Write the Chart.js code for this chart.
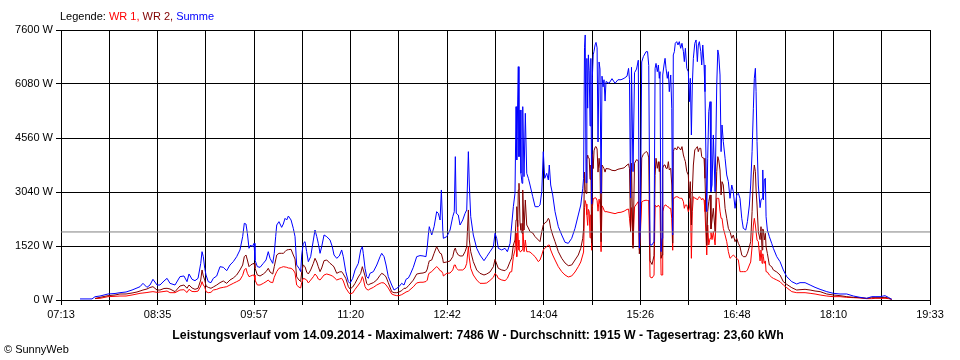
<!DOCTYPE html>
<html>
<head>
<meta charset="utf-8">
<script src="https://cdn.jsdelivr.net/npm/chart.js@4"></script>
<style>
  body { margin: 0; background: #fff; }
  canvas { display: block; }
</style>
</head>
<body>
<canvas id="chart" width="960" height="360"></canvas>
<script>
// Zeit in Minuten seit Mitternacht
const zeiten = [
  449.2, 459.4, 462.0, 466.2, 473.0, 479.0, 483.2, 488.4, 493.5, 497.7,
  500.3, 502.8, 506.2, 508.8, 511.3, 514.8, 517.3, 520.7, 523.3, 525.8,
  530.1, 534.3, 537.7, 540.3, 542.0, 544.6, 547.1, 549.7, 552.0, 553.1,
  554.2, 555.4, 556.5, 558.4, 560.7, 562.7, 565.6, 568.4, 571.2, 574.1,
  576.9, 579.7, 582.6, 585.4, 587.7, 589.1, 590.5, 591.7, 593.1, 594.5,
  595.9, 597.4, 598.2, 600.2, 602.5, 605.3, 607.6, 609.5, 611.0, 613.3,
  614.6, 615.8, 616.7, 618.6, 620.9, 622.3, 623.8, 625.2, 626.6, 628.9,
  630.8, 632.3, 633.7, 635.7, 637.1, 638.0, 639.3, 640.8, 642.2, 643.6,
  645.6, 647.9, 649.3, 650.8, 652.1, 653.6, 655.0, 657.0, 659.3, 662.1,
  664.0, 665.5, 667.8, 670.0, 672.0, 673.4, 675.5, 677.7, 679.1, 681.4,
  683.4, 686.2, 688.2, 689.6, 690.4, 691.9, 693.3, 694.7, 696.1, 699.0,
  701.9, 704.7, 706.1, 708.1, 709.8, 711.7, 714.6, 716.6, 718.9, 720.8,
  723.1, 725.1, 726.8, 728.8, 730.2, 733.0, 735.9, 738.7, 741.3, 743.8,
  744.9, 745.8, 746.6, 748.7, 750.7, 752.9, 754.3, 755.8, 756.9, 758.1,
  758.6, 761.5, 764.3, 766.6, 767.9, 768.8, 769.6, 771.3, 772.8, 775.1,
  777.1, 778.5, 779.9, 780.7, 781.9, 784.1, 787.0, 789.8, 793.2, 795.5,
  798.3, 801.2, 802.6, 804.0, 805.4, 808.3, 811.1, 813.1, 815.4, 816.8,
  818.2, 819.6, 820.5, 821.1, 821.9, 822.4, 823.0, 823.9, 824.7, 825.6,
  826.2, 827.3, 828.4, 829.6, 831.0, 832.4, 834.7, 836.7, 839.5, 840.9,
  842.4, 843.7, 844.9, 846.6, 848.0, 848.8, 850.0, 851.7, 853.7, 856.5,
  859.4, 862.2, 865.0, 867.9, 870.7, 873.5, 875.6, 877.3, 878.0, 878.8,
  879.4, 880.1, 880.8, 881.5, 882.1, 882.8, 883.5, 884.2, 884.9, 885.5,
  886.2, 886.9, 887.8, 888.6, 889.5, 890.3, 891.2, 892.0, 892.9, 893.7,
  894.6, 895.4, 896.3, 897.1, 899.7, 902.2, 904.8, 907.3, 909.9, 912.5,
  915.0, 916.3, 917.1, 918.0, 918.8, 920.1, 921.4, 923.1, 924.6, 925.5,
  926.3, 927.5, 928.9, 931.2, 932.5, 933.5, 934.6, 936.3, 938.0, 938.9,
  939.7, 940.8, 941.7, 942.5, 943.1, 944.0, 944.8, 945.4, 946.5, 947.4,
  948.2, 949.3, 950.2, 951.0, 952.2, 953.1, 953.9, 954.4, 955.3, 956.1,
  957.3, 958.4, 959.5, 960.7, 961.8, 963.0, 963.8, 964.7, 965.9, 967.2,
  968.1, 968.9, 969.8, 970.6, 971.5, 972.7, 973.8, 974.9, 975.7, 976.6,
  977.8, 978.6, 979.5, 980.6, 981.4, 982.9, 983.7, 984.6, 985.7, 986.5,
  987.4, 988.5, 990.0, 991.4, 992.3, 993.1, 994.2, 995.1, 995.9, 997.0,
  998.5, 999.9, 1001.3, 1002.7, 1004.2, 1005.5, 1007.0, 1008.4, 1009.8, 1011.2,
  1012.7, 1014.0, 1016.1, 1017.5, 1019.2, 1020.3, 1021.5, 1022.6, 1023.4, 1024.3,
  1024.9, 1025.7, 1026.8, 1028.3, 1029.1, 1030.0, 1030.6, 1031.1, 1031.9, 1032.8,
  1033.4, 1034.5, 1036.2, 1038.2, 1039.6, 1042.5, 1045.3, 1048.1, 1051.0, 1055.3,
  1059.5, 1062.3, 1066.6, 1070.9, 1075.1, 1079.4, 1085.1, 1090.7, 1096.4, 1102.1,
  1107.7, 1113.4, 1119.1, 1123.4, 1126.2, 1130.5, 1134.7, 1137.5, 1140.4
];

const summe = [
  30, 30, 93, 112, 169, 183, 206, 225, 281, 338,
  375, 469, 356, 422, 582, 422, 422, 535, 610, 469,
  422, 657, 676, 516, 732, 582, 544, 610, 1032, 1360,
  1220, 892, 704, 516, 488, 610, 676, 938, 920, 825,
  985, 1079, 1220, 1408, 1783, 2158, 2139, 1877, 1455, 1548,
  1501, 1595, 1126, 938, 920, 1032, 1126, 1360, 1173, 1032,
  1314, 1783, 2111, 2205, 2045, 2139, 2299, 2252, 2364, 2252,
  2017, 1783, 985, 892, 800, 1267, 1595, 1642, 1360, 1079,
  1220, 1689, 1970, 1783, 1595, 1314, 1501, 1830, 1783, 1689,
  1501, 1267, 1173, 1239, 1408, 1220, 798, 516, 469, 610,
  845, 1032, 1408, 1501, 1314, 892, 657, 610, 751, 798,
  985, 1220, 1314, 1220, 985, 657, 422, 281, 329, 375,
  469, 422, 582, 620, 704, 920, 1220, 1250, 1240, 1220,
  1501, 1830, 2064, 1830, 2064, 2486, 2440, 2252, 3097, 1970,
  1736, 1783, 1970, 2346, 2486, 4035, 2440, 2393, 2111, 2252,
  2440, 2534, 4176, 3237, 2346, 1830, 1455, 1267, 1107, 1220,
  1360, 1501, 1877, 1736, 1455, 1408, 1455, 1360, 1595, 2111,
  2627, 3003, 5442, 3941, 5630, 6568, 4035, 5349, 3566, 3285,
  5442, 3472, 5255, 3566, 3425, 3237, 2909, 2627, 2627, 2674,
  3050, 4176, 3425, 3566, 3378, 3800, 3237, 2956, 2486, 2064,
  1830, 1624, 1595, 1736, 2017, 2393, 2674, 3144, 3425, 7100,
  7460, 3300, 6800, 5400, 6900, 6450, 4900, 6800, 2700, 6300,
  6900, 7000, 7180, 7250, 7100, 4450, 6700, 6500, 3000, 6300,
  6000, 6200, 5600, 6150, 6100, 6230, 6100, 6200, 6200, 6240,
  6300, 6520, 6200, 2870, 6550, 3613, 6400, 6500, 6750, 1460,
  2000, 6700, 6850, 6990, 6990, 6600, 1550, 1550, 1650, 6520,
  6660, 6427, 6615, 6240, 6427, 1360, 1736, 6334, 6615, 6803,
  6522, 6240, 6427, 5864, 6334, 5396, 1830, 6897, 6990, 7225,
  7272, 7178, 7272, 7085, 7225, 6990, 6709, 7085, 6522, 6427,
  5583, 6240, 4645, 6052, 6803, 7225, 7319, 6709, 7178, 7272,
  6990, 6615, 7178, 6615, 5864, 2486, 3989, 5301, 5583, 3050,
  3237, 4645, 3050, 6052, 7038, 6897, 6334, 4176, 4926, 4457,
  3989, 3519, 3331, 2862, 3237, 3050, 2581, 2956, 3003, 2862,
  2299, 2017, 1970, 2205, 2674, 3237, 4176, 5396, 6240, 6522,
  5864, 4457, 3237, 2600, 2815, 2862, 3660, 2815, 3378, 3425,
  2346, 1970, 1783, 1595, 1455, 1220, 1079, 845, 657, 516,
  450, 488, 488, 422, 356, 300, 235, 188, 169, 169,
  113, 75, 47, 94, 94, 94, 122, 75, 19
];

const wr2 = [
  null, null, 45, 75, 122, 141, 169, 169, 197, 225,
  253, 281, 310, 352, 375, 281, 281, 324, 329, 310,
  235, 394, 422, 330, 422, 338, 300, 329, 563, 845,
  676, 563, 394, 356, 329, 366, 422, 488, 535, 469,
  563, 619, 704, 845, 985, 1220, 1267, 1126, 938, 985,
  1013, 1032, 901, 704, 676, 732, 798, 892, 788, 732,
  938, 1126, 1267, 1314, 1314, 1314, 1360, 1408, 1417, 1426,
  1267, 1154, 650, 560, 520, 800, 985, 938, 788, 732,
  845, 1032, 1173, 1070, 938, 798, 901, 1107, 1126, 1032,
  985, 929, 751, 788, 798, 732, 610, 375, 310, 366,
  469, 648, 751, 938, 845, 676, 469, 422, 450, 488,
  563, 695, 751, 713, 648, 488, 235, 206, 206, 225,
  263, 329, 329, 400, 450, 560, 730, 751, 760, 790,
  870, 1000, 1100, 1126, 1314, 1501, 1408, 1314, 1300, 1150,
  1051, 1070, 1098, 1220, 1408, 1464, 1360, 1267, 1239, 1239,
  1360, 1501, 2534, 1689, 1360, 1079, 845, 751, 704, 732,
  788, 938, 1145, 1013, 892, 845, 825, 892, 1079, 1182,
  1548, 1689, 2252, 2627, 2064, 3097, 3285, 2158, 1970, 1877,
  3097, 1970, 2815, 2111, 2027, 1924, 1886, 1783, 1689, 1642,
  1924, 2111, 2168, 2205, 2299, 2252, 2017, 1830, 1642, 1360,
  1173, 1042, 966, 985, 1126, 1267, 1455, 1736, 2000, 3600,
  3100, 3000, 3950, 4080, 4000, 3990, 3400, 3800, 1600, 4100,
  3700, 4200, 4300, 4320, 4250, 3600, 3990, 3700, 1640, 3800,
  3750, 3700, 3600, 3700, 3690, 3650, 3640, 3680, 3700, 3720,
  3800, 3830, 3700, 1920, 3850, 1455, 3850, 3950, 3920, 1300,
  1800, 4000, 4100, 4180, 4150, 4000, 1100, 1000, 1250, 3500,
  3990, 3707, 3894, 3613, 3894, 1173, 1267, 3716, 3800, 3800,
  3707, 3707, 3894, 3660, 3707, 3237, 1600, 4176, 4270, 4278,
  4223, 4317, 4278, 4223, 4317, 4082, 3989, 3894, 3613, 3519,
  2862, 3331, 2111, 3050, 3800, 4223, 4270, 4317, 4176, 4270,
  4270, 4035, 3997, 3989, 3425, 1548, 2486, 2768, 2956, 2000,
  2252, 2581, 1924, 3613, 4035, 3941, 3660, 2956, 3331, 3237,
  2581, 2299, 2017, 1924, 1736, 1830, 1642, 1736, 1595, 1501,
  1267, 1220, 1220, 1314, 1501, 1642, 2486, 3519, 3800, 3613,
  3097, 2674, 1924, 1700, 2064, 1408, 2000, 1970, 1689, 1877,
  1500, 1314, 985, 938, 845, 788, 704, 516, 441, 347,
  281, 290, 300, 281, 253, 235, 169, 141, 122, 94,
  75, 66, 47, 66, 66, 66, 75, 56, 19
];

const wr1 = [
  null, null, 40, 47, 94, 103, 112, 112, 141, 169,
  188, 197, 211, 225, 235, 216, 225, 240, 253, 206,
  206, 281, 290, 210, 300, 240, 235, 250, 394, 516,
  422, 366, 235, 206, 216, 281, 300, 338, 356, 375,
  422, 469, 516, 563, 695, 845, 892, 751, 657, 676,
  695, 704, 563, 422, 422, 469, 516, 563, 507, 488,
  639, 732, 798, 892, 920, 938, 929, 920, 901, 892,
  845, 760, 420, 360, 340, 500, 610, 591, 563, 480,
  560, 657, 732, 676, 591, 563, 619, 704, 732, 704,
  676, 639, 563, 591, 610, 535, 338, 225, 169, 197,
  300, 422, 516, 657, 591, 375, 300, 281, 310, 356,
  422, 469, 488, 479, 422, 338, 169, 141, 122, 122,
  150, 188, 225, 250, 290, 370, 480, 500, 500, 520,
  560, 700, 760, 798, 873, 938, 901, 825, 816, 750,
  676, 751, 760, 845, 985, 985, 901, 845, 845, 845,
  901, 1032, 1501, 1182, 892, 704, 563, 469, 469, 479,
  550, 640, 750, 704, 610, 563, 544, 610, 788, 798,
  1220, 1408, 1877, 1220, 2252, 1689, 1408, 1360, 1380, 1408,
  2158, 1360, 1689, 1360, 1360, 1351, 1281, 1220, 1079, 1126,
  1267, 1408, 1455, 1501, 1548, 1548, 1408, 1267, 1126, 938,
  798, 704, 648, 676, 788, 938, 1070, 1267, 1350, 2600,
  2800, 2700, 2400, 2100, 2550, 2490, 1750, 2400, 1400, 2600,
  2850, 2860, 2880, 2870, 2800, 2500, 2840, 2680, 1360, 2650,
  2600, 2530, 2480, 2490, 2470, 2450, 2430, 2460, 2470, 2500,
  2550, 2560, 2300, 2000, 2600, 1548, 2620, 2700, 2770, 1400,
  1800, 2760, 2790, 2810, 2800, 2800, 650, 620, 700, 2670,
  2630, 2627, 2674, 2627, 2627, 704, 704, 2486, 2627, 2674,
  2674, 2627, 2627, 2581, 2581, 2299, 1400, 2862, 2862, 2900,
  2909, 2900, 2871, 2862, 2862, 2768, 2581, 2674, 2674, 2486,
  2581, 2862, 1173, 2486, 2909, 2862, 2862, 2815, 2862, 2909,
  2862, 2815, 2862, 2815, 2486, 1267, 2111, 1548, 1736, 1900,
  1700, 1924, 1548, 2862, 2862, 2862, 2500, 2299, 2299, 2017,
  1830, 1642, 1360, 1173, 1220, 1267, 1220, 1173, 1126, 798,
  798, 798, 798, 845, 985, 1070, 1501, 2111, 2299, 2111,
  1924, 1689, 1642, 1100, 1408, 1032, 1300, 1220, 1032, 1100,
  798, 788, 704, 639, 610, 563, 516, 422, 347, 235,
  206, 206, 206, 188, 169, 141, 112, 94, 94, 75,
  66, 56, 38, 38, 47, 47, 47, 38, 19
];

const xTickLabels = ["07:13", "08:35", "09:57", "11:20", "12:42", "14:04", "15:26", "16:48", "18:10", "19:33"];
const tStart = 433;   // 07:13
const tEnde = 1173;   // 19:33
const yMax = 7600;
const yStep = 1520;
const durchschnitt = 1915;

const titel = "Leistungsverlauf vom 14.09.2014 - Maximalwert: 7486 W - Durchschnitt: 1915 W - Tagesertrag: 23,60 kWh";

const FONT = '"Liberation Sans", Arial, sans-serif';
Chart.defaults.font.family = FONT;
Chart.defaults.font.size = 11;
Chart.defaults.color = "#000";

function punkte(werte) {
    return zeiten.map((t, i) => ({ x: t, y: werte[i] }));
}

const texte = {
    id: "texte",
    beforeDraw(chart) {
        const ctx = chart.ctx;
        ctx.save();
        ctx.fillStyle = "#fff";
        ctx.fillRect(0, 0, chart.width, chart.height);
        ctx.restore();
    },
    afterDraw(chart) {
        const ctx = chart.ctx;
        ctx.save();
        ctx.textBaseline = "alphabetic";
        ctx.font = "11px " + FONT;
        let x = 60;
        const teile = [["Legende: ", "#000"], ["WR 1, ", "#ff0000"], ["WR 2, ", "#800000"], ["Summe", "#0000ff"]];
        teile.forEach(([txt, col]) => {
            ctx.fillStyle = col;
            ctx.fillText(txt, x, 20);
            x += ctx.measureText(txt).width;
        });
        ctx.fillStyle = "#000";
        ctx.font = "bold 12.3px " + FONT;
        ctx.textAlign = "center";
        ctx.fillText(titel, 478, 339);
        ctx.textAlign = "left";
        ctx.font = "11px " + FONT;
        ctx.fillText("\u00A9 SunnyWeb", 4, 353);
        ctx.restore();
    }
};

new Chart("chart", {
    type: "line",
    data: {
        datasets: [
            {
                label: "Durchschnitt",
                data: [{ x: tStart, y: durchschnitt }, { x: tEnde, y: durchschnitt }],
                borderColor: "#808080",
                borderWidth: 1,
                order: -1
            },
            {
                label: "Summe",
                data: punkte(summe),
                borderColor: "#0000ff",
                borderWidth: 1,
                order: 0
            },
            {
                label: "WR 2",
                data: punkte(wr2),
                borderColor: "#800000",
                borderWidth: 1,
                order: 1
            },
            {
                label: "WR 1",
                data: punkte(wr1),
                borderColor: "#ff0000",
                borderWidth: 1,
                order: 2
            }
        ]
    },
    options: {
        responsive: false,
        animation: false,
        layout: { padding: { top: 30, right: 30, left: 0, bottom: 0 } },
        elements: { point: { radius: 0 }, line: { tension: 0 } },
        plugins: { legend: { display: false }, tooltip: { enabled: false } },
        scales: {
            x: {
                type: "linear",
                min: tStart,
                max: tEnde,
                afterBuildTicks(scale) {
                    const n = (xTickLabels.length - 1) * 2;
                    scale.ticks = [];
                    for (let i = 0; i <= n; i++) {
                        scale.ticks.push({ value: tStart + i * (tEnde - tStart) / n });
                    }
                },
                afterFit(scale) { scale.height = 60; },
                ticks: {
                    autoSkip: false,
                    maxRotation: 0,
                    minRotation: 0,
                    padding: 3,
                    callback: (v, i) => (i % 2 === 0 ? xTickLabels[i / 2] : "")
                },
                grid: { color: "#000", lineWidth: 1, tickLength: 5, drawTicks: true },
                border: { display: true, color: "#000" }
            },
            y: {
                min: 0,
                max: yMax,
                afterFit(scale) { scale.width = 61; },
                ticks: {
                    stepSize: yStep,
                    padding: 3,
                    callback: v => v + " W"
                },
                grid: { color: "#000", lineWidth: 1, tickLength: 5, drawTicks: true },
                border: { display: true, color: "#000" }
            }
        }
    },
    plugins: [texte]
});
</script>
</body>
</html>
